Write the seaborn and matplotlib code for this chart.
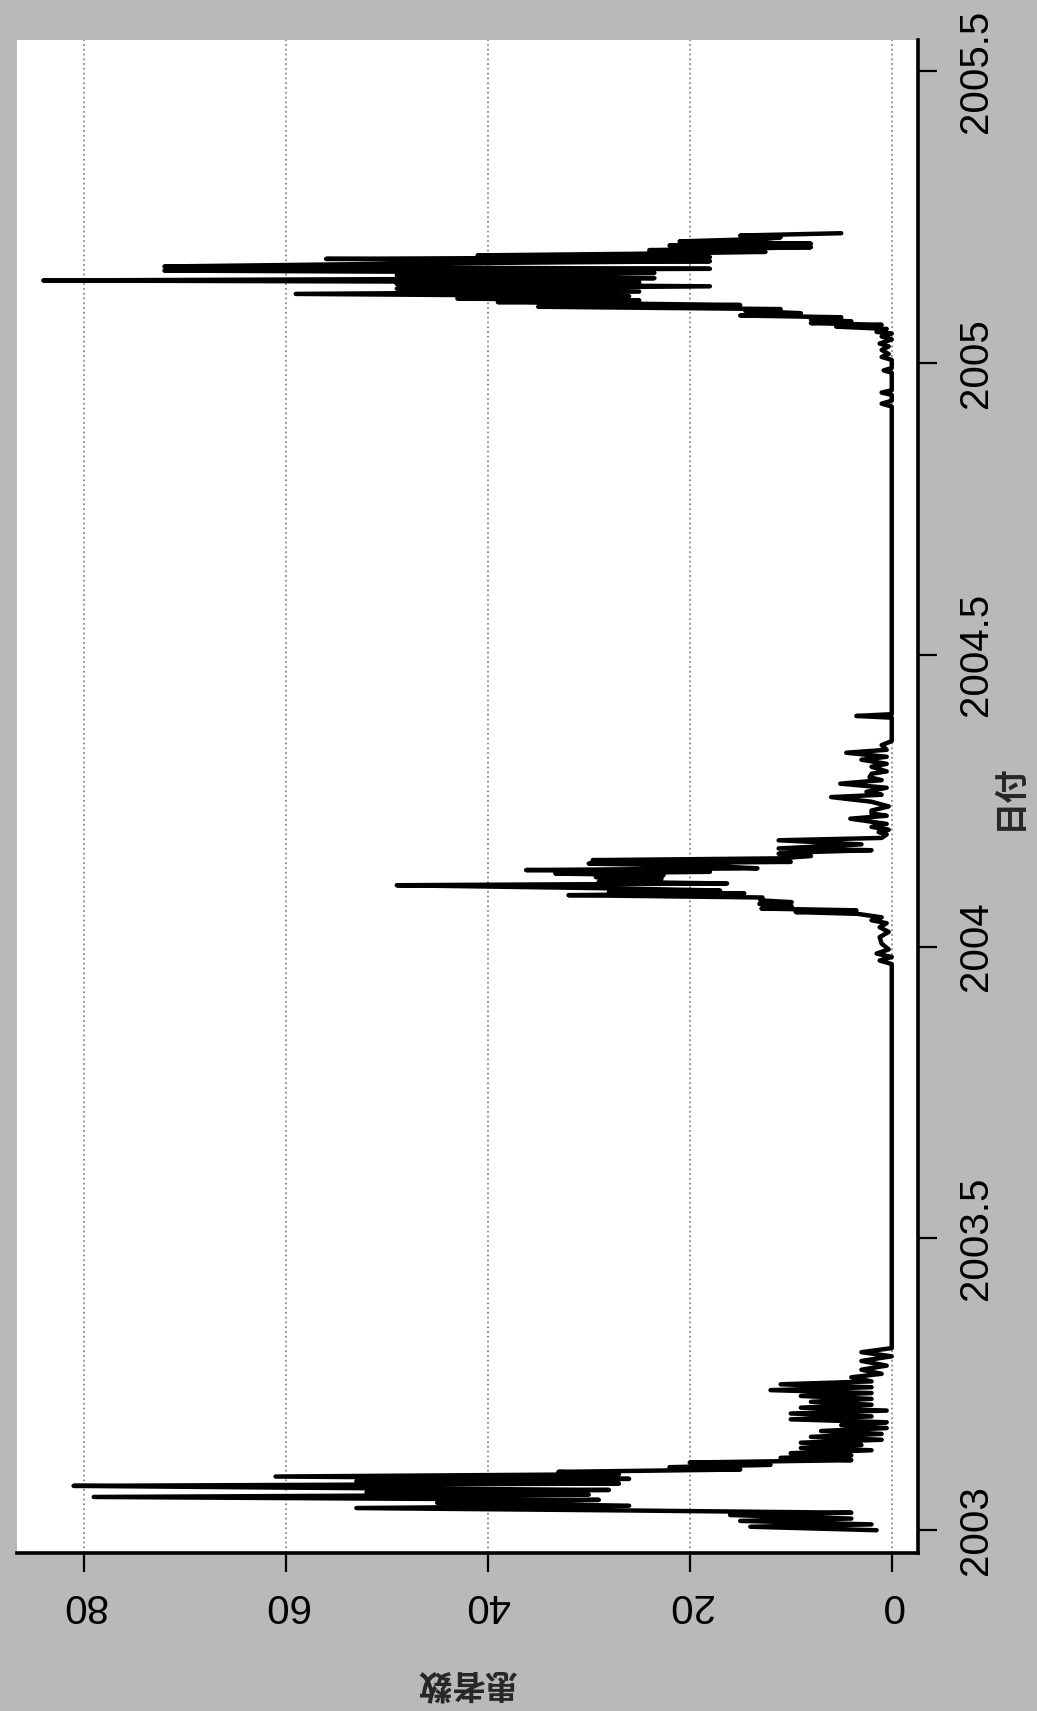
"""Rotated scan of a daily patient-count series (患者数 vs 日付), 2003-2005."""

import matplotlib

matplotlib.use("Agg")
import matplotlib.pyplot as plt
import pandas as pd
import seaborn as sns


# --- data (decimal year, patients) ----------------------------------------
dates_2003 = [
    2003.000, 2003.006, 2003.010, 2003.016, 2003.020, 2003.026, 2003.030, 2003.034, 2003.038, 2003.042,
    2003.047, 2003.052, 2003.057, 2003.061, 2003.065, 2003.069, 2003.073, 2003.076, 2003.080, 2003.084,
    2003.088, 2003.092, 2003.096, 2003.100, 2003.104, 2003.108, 2003.112, 2003.116, 2003.120, 2003.124,
    2003.128, 2003.132, 2003.137, 2003.141, 2003.146, 2003.150, 2003.155, 2003.160, 2003.165, 2003.170,
    2003.175, 2003.180, 2003.185, 2003.190, 2003.195, 2003.200, 2003.205, 2003.210, 2003.215, 2003.220,
    2003.225, 2003.230, 2003.235, 2003.240, 2003.245, 2003.250, 2003.255, 2003.262, 2003.268, 2003.275,
    2003.282, 2003.290, 2003.298, 2003.305, 2003.312,
]
counts_2003 = [
    1.5, 14, 2, 15, 4, 16, 4, 27, 53, 26,
    45, 29, 79, 30, 52, 28, 60, 81, 27, 53,
    26, 61, 27, 33, 15, 22, 12, 20, 4, 11,
    4, 10, 2, 9, 3, 9, 1, 8, 1, 7,
    0.5, 5, 0.5, 10, 2, 10, 0.5, 9, 2, 8,
    2, 9, 2, 12, 2, 11, 2, 4, 1, 3,
    0.5, 3, 0, 3, 0,
]

dates_2004 = [
    2003.970, 2003.976, 2003.982, 2003.988, 2003.995, 2004.005, 2004.016, 2004.025, 2004.033, 2004.040,
    2004.045, 2004.050, 2004.056, 2004.059, 2004.062, 2004.065, 2004.069, 2004.073, 2004.076, 2004.079,
    2004.084, 2004.088, 2004.091, 2004.093, 2004.096, 2004.100, 2004.105, 2004.108, 2004.111, 2004.116,
    2004.119, 2004.122, 2004.125, 2004.128, 2004.131, 2004.134, 2004.138, 2004.142, 2004.145, 2004.148,
    2004.151, 2004.155, 2004.159, 2004.162, 2004.165, 2004.168, 2004.175, 2004.182, 2004.186, 2004.192,
    2004.196, 2004.200, 2004.205, 2004.210, 2004.219, 2004.224, 2004.228, 2004.233, 2004.240, 2004.248,
    2004.256, 2004.260, 2004.265, 2004.272, 2004.279, 2004.285, 2004.290, 2004.296, 2004.300, 2004.308,
    2004.313, 2004.320, 2004.325, 2004.332, 2004.337, 2004.345, 2004.352, 2004.392, 2004.395, 2004.398,
]
counts_2004 = [
    0, 1.2, 0, 1.5, 0.3, 1, 1.2, 0.3, 1.2, 0.5,
    2.0, 1, 3.4, 9.5, 3.5, 12.9, 9.9, 13.1, 9.9, 13,
    12.8, 32, 14.6, 28, 17, 29, 49, 16.3, 29, 22.8,
    29.3, 22.6, 33.3, 18, 36.2, 13.3, 18, 30, 10, 29.6,
    11.2, 8, 11.2, 8, 2, 11.2, 3, 11.2, 1, 0.5,
    1.3, 0.3, 2, 0.5, 4.1, 0.5, 2, 2, 0.3, 2,
    6, 1, 2.5, 0.5, 5.1, 1, 2.2, 2, 0.5, 2,
    0.5, 3, 0.5, 4.5, 0.5, 1, 0, 0, 3.5, 0,
]

dates_2005 = [
    2004.925, 2004.930, 2004.935, 2004.945, 2004.949, 2004.953, 2004.983, 2004.987, 2004.991, 2005.005,
    2005.010, 2005.015, 2005.022, 2005.028, 2005.033, 2005.040, 2005.045, 2005.050, 2005.053, 2005.058,
    2005.062, 2005.065, 2005.068, 2005.071, 2005.074, 2005.078, 2005.081, 2005.085, 2005.089, 2005.092,
    2005.096, 2005.099, 2005.104, 2005.107, 2005.110, 2005.114, 2005.118, 2005.122, 2005.127, 2005.131,
    2005.135, 2005.138, 2005.141, 2005.145, 2005.150, 2005.154, 2005.158, 2005.161, 2005.165, 2005.170,
    2005.174, 2005.178, 2005.181, 2005.184, 2005.187, 2005.190, 2005.193, 2005.198, 2005.201, 2005.204,
    2005.208, 2005.212, 2005.215, 2005.218, 2005.222,
]
counts_2005 = [
    0, 1, 0, 0, 1, 0, 0, 0.8, 0, 0,
    1, 0.3, 1, 0.3, 1.2, 0, 1, 0, 1.5, 0.5,
    5.5, 1, 8, 4, 8, 5, 15, 9, 14.5, 11,
    35, 15, 39, 25, 43, 26, 59, 25, 49, 18,
    49, 25, 84, 23.5, 49, 23.5, 72, 18, 72, 48,
    18, 56, 18, 41, 24, 12.5, 24, 8, 22, 8,
    21, 13, 11, 15, 5,
]

count_ticks = [0, 20, 40, 60, 80]
date_ticks = [2003, 2003.5, 2004, 2004.5, 2005, 2005.5]
date_tick_labels = ["2003", "2003.5", "2004", "2004.5", "2005", "2005.5"]

BG = "#b9b9b9"
W, H = 1037, 1711


def main() -> None:
    sns.set_theme(style="white")
    plt.rcParams["font.family"] = ["Liberation Sans", "Noto Sans CJK JP", "DejaVu Sans"]
    plt.rcParams["axes.unicode_minus"] = False

    df = pd.DataFrame({
        "日付": dates_2003 + dates_2004 + dates_2005,
        "患者数": counts_2003 + counts_2004 + counts_2005,
    })

    fig = plt.figure(figsize=(W / 100, H / 100), dpi=100, facecolor=BG)
    # panel in pixels: left 17, right 918, top 40, bottom 1553
    ax = fig.add_axes([17 / W, 1 - 1553 / H, (918 - 17) / W, (1553 - 40) / H])
    ax.set_facecolor("white")

    sns.lineplot(data=df, x="患者数", y="日付", orient="y", estimator=None, sort=False,
                 color="black", linewidth=3.2, ax=ax)

    ax.set_xlim(86.6, -2.6)
    ax.set_ylim(2002.961, 2005.553)

    ax.set_xticks(count_ticks)
    ax.set_xticklabels([str(t) for t in count_ticks], rotation=180)
    ax.yaxis.tick_right()
    ax.yaxis.set_label_position("right")
    ax.set_yticks(date_ticks)
    ax.set_yticklabels(date_tick_labels, rotation=90, va="center")

    ax.tick_params(axis="x", direction="out", length=14, width=1.6, pad=10,
                   labelsize=29, colors="black", bottom=True)
    ax.tick_params(axis="y", direction="out", length=14, width=1.6, pad=14,
                   labelsize=29, colors="black", right=True, left=False)

    ax.grid(axis="x", linestyle=":", color="#8a8a8a", linewidth=1.3)
    ax.grid(axis="y", visible=False)

    for side in ["left", "top"]:
        ax.spines[side].set_visible(False)
    for side in ["bottom", "right"]:
        ax.spines[side].set_visible(True)
        ax.spines[side].set_color("black")
        ax.spines[side].set_linewidth(2.6)

    ax.set_xlabel("患者数", rotation=180, fontsize=24, fontweight="bold")
    ax.xaxis.set_label_coords(0.5, -0.075)
    ax.set_ylabel("日付", rotation=90, fontsize=24, fontweight="bold")
    ax.yaxis.set_label_coords(1.085, 0.5)

    fig.savefig("out.png", dpi=100, facecolor=fig.get_facecolor())
    plt.close(fig)


if __name__ == "__main__":
    main()
